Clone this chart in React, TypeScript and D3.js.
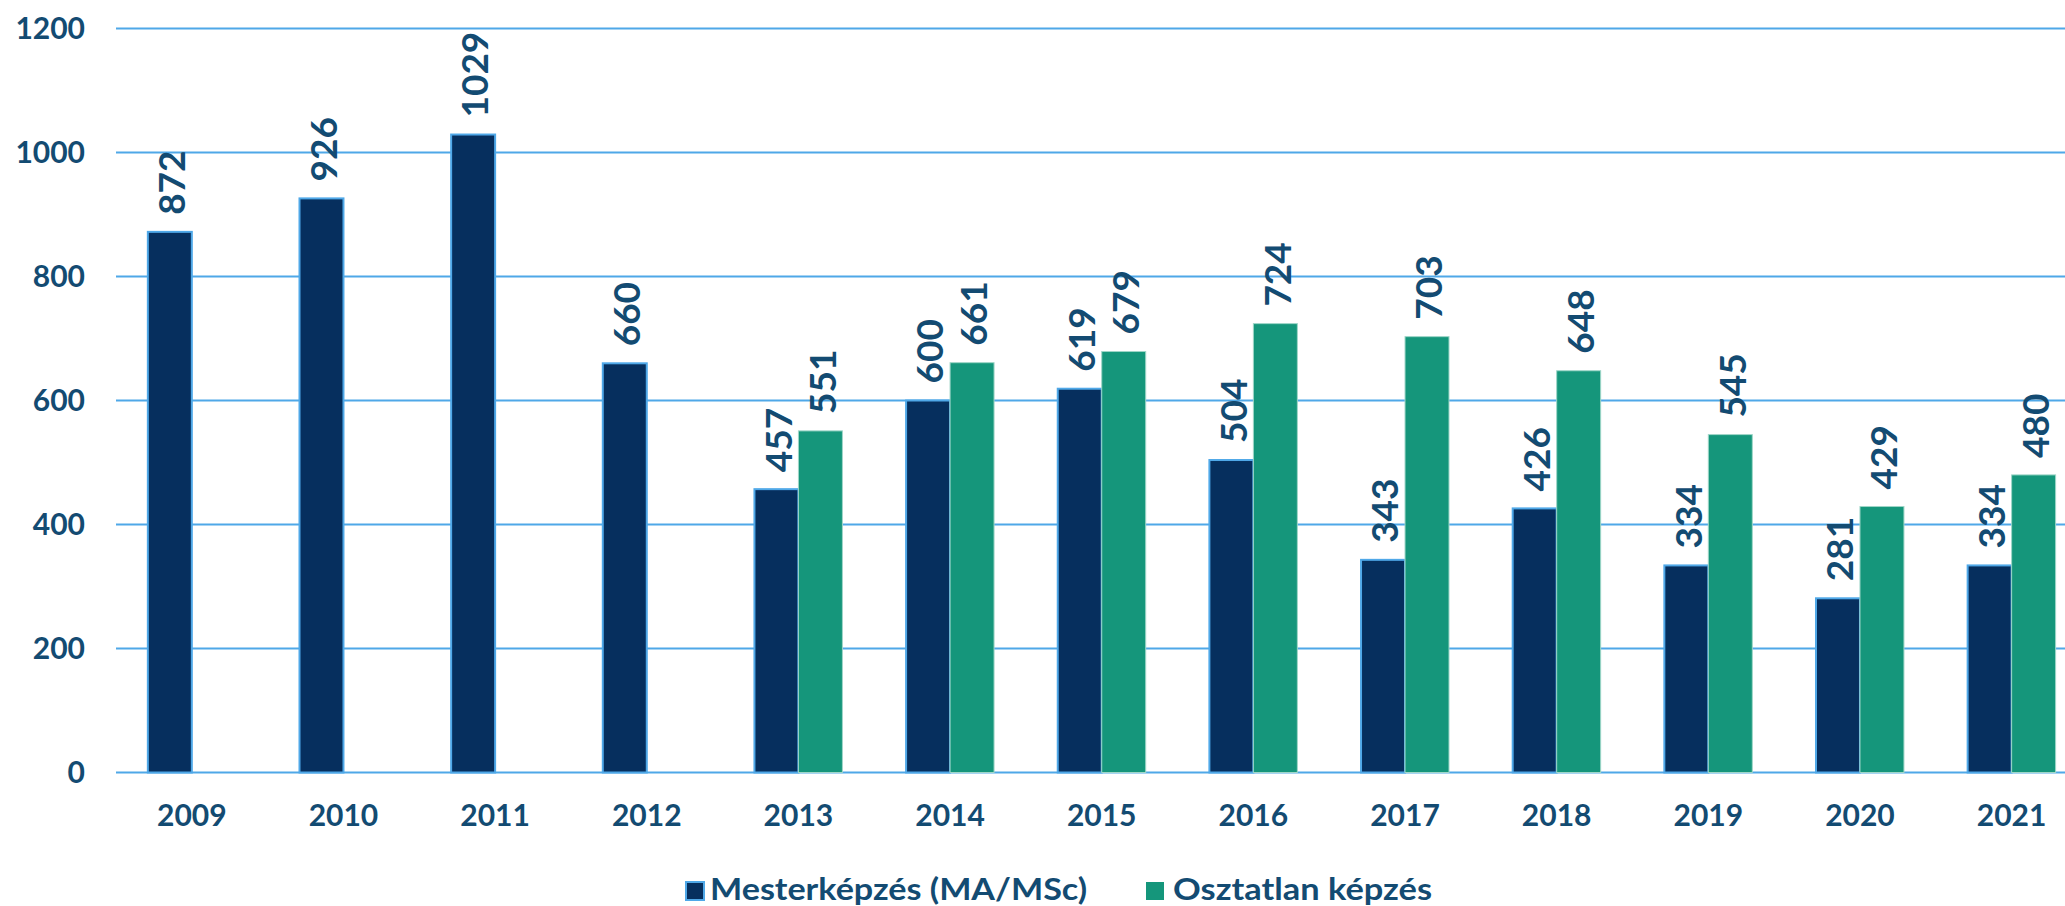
import React from "react";
import * as d3 from "d3";

const years = ["2009","2010","2011","2012","2013","2014","2015","2016","2017","2018","2019","2020","2021"];
const mester: (number | null)[] = [872, 926, 1029, 660, 457, 600, 619, 504, 343, 426, 334, 281, 334];
const osztatlan: (number | null)[] = [null, null, null, null, 551, 661, 679, 724, 703, 648, 545, 429, 480];
const yTicks = [0, 200, 400, 600, 800, 1000, 1200];
const seriesNames = ["Mesterképzés (MA/MSc)", "Osztatlan képzés"];

const W = 2065;
const H = 906;
const NAVY = "#062f5e";
const GREEN = "#15967b";
const GRID = "#4fa8e8";
const TEXT = "#134b72";
const FONT = "Lato, 'Noto Sans', sans-serif";

export default function App() {
  const x = d3.scaleBand<string>().domain(years).range([116, 116 + 13 * 151.65]).paddingInner(0.42).paddingOuter(0.21);
  const inner = d3.scaleBand<number>().domain([0, 1]).range([0, x.bandwidth()]);
  const y = d3.scaleLinear().domain([0, 1200]).range([772.5, 28.5]);
  const series = [mester, osztatlan];
  const colors = [NAVY, GREEN];
  const strokes = [GRID, "#9fd6c8"];

  return (
    <svg width={W} height={H} style={{ position: "absolute", left: 0, top: 0, background: "#fff" }} fontFamily={FONT}>
      {yTicks.map((t) => (
        <g key={t}>
          <line x1={116} x2={W} y1={y(t)} y2={y(t)} stroke={GRID} strokeWidth={2} />
          <text x={85} y={y(t)} dy="0.36em" textAnchor="end" fontSize={30} fontWeight={700} fill={TEXT}>{t}</text>
        </g>
      ))}
      {series.map((s, si) =>
        s.map((v, i) => {
          if (v == null) return null;
          const bx = (x(years[i]) as number) + (inner(si) as number);
          const bw = inner.bandwidth();
          return (
            <g key={`${si}-${i}`}>
              <rect x={bx} y={y(v)} width={bw} height={y(0) - y(v)} fill={colors[si]} stroke={strokes[si]} strokeWidth={si === 0 ? 2 : 1} />
              <text
                transform={`translate(${bx + bw / 2 + 2},${y(v) - 17}) rotate(-90)`}
                dy="0.36em"
                textAnchor="start"
                fontSize={37}
                fontWeight={700}
                fill={TEXT}
              >{v}</text>
            </g>
          );
        })
      )}
      {years.map((yr) => (
        <text key={yr} x={(x(yr) as number) + x.bandwidth() / 2} y={826} textAnchor="middle" fontSize={30} fontWeight={700} fill={TEXT}>{yr}</text>
      ))}
      <g>
        <rect x={686} y={882} width={18} height={18} fill={NAVY} stroke={GRID} strokeWidth={2} />
        <text x={710} y={900} fontSize={30} fontWeight={700} fill={TEXT} textLength={377} lengthAdjust="spacingAndGlyphs">{seriesNames[0]}</text>
        <rect x={1146} y={882} width={18} height={18} fill={GREEN} />
        <text x={1173} y={900} fontSize={30} fontWeight={700} fill={TEXT} textLength={259} lengthAdjust="spacingAndGlyphs">{seriesNames[1]}</text>
      </g>
    </svg>
  );
}
